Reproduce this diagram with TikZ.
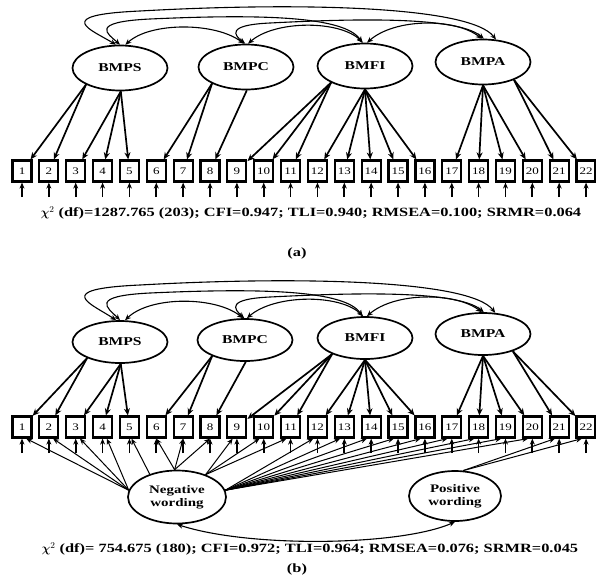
\documentclass[tikz,border=0pt]{standalone}
\usepackage{amsmath}
\usepackage{bm}
\usepackage{fontspec}
\setmainfont{Liberation Serif}[FakeStretch=1.3]
\usetikzlibrary{shapes.geometric, arrows.meta}

\begin{document}
\begin{tikzpicture}[
        x=1pt, y=-1pt,
        latent/.style={ellipse, draw, line width=1.7pt, minimum width=95pt, minimum height=45pt, inner sep=0pt, font=\fontsize{12}{13}\selectfont\bfseries},
        method/.style={latent, minimum width=98pt, minimum height=53pt, align=center, font=\fontsize{11.5}{13}\selectfont\bfseries},
        indic/.style={rectangle, draw, line width=2.2pt, minimum width=19pt, minimum height=21pt, inner sep=0pt, font=\fontsize{10}{10}\selectfont},
        loading/.style={->, >={Stealth[length=7pt, width=6pt]}, line width=1.7pt},
        errarrow/.style={->, >={Stealth[length=6pt, width=5pt]}, line width=1.7pt},
        covar/.style={<->, >={Stealth[length=6pt, width=5pt]}, line width=1.1pt},
        wordline/.style={->, >={Stealth[length=6pt, width=5pt]}, line width=1pt},
        statline/.style={font=\fontsize{12.6}{14}\selectfont\bfseries}
    ]
    \useasboundingbox (0,0) rectangle (596,576);

    % (a) Indicators with error terms
    \foreach \i in {1,...,22} {
        \node[indic] (a\i) at ({22+(\i-1)*26.86},171) {\i};
        \coordinate (ea\i) at ({22+(\i-1)*26.86},197);
        \draw[errarrow] (ea\i) -- (a\i);
    }

    % (a) Factors
    \node[latent] (PSa) at (120,68) {BMPS};
    \node[latent] (PCa) at (246,67) {BMPC};
    \node[latent] (FIa) at (365,66) {BMFI};
    \node[latent] (PAa) at (483,62) {BMPA};

    % (a) Loadings
    \foreach \i in {1,2} \draw[loading] (PSa.206) -- (a\i);
    \foreach \i in {3,4,5} \draw[loading] (PSa.272) -- (a\i);
    \foreach \i in {6,7} \draw[loading] (PCa.206) -- (a\i);
    \draw[loading] (PCa.272) -- (a8);
    \foreach \i in {9,10,11} \draw[loading] (FIa.206) -- (a\i);
    \foreach \i in {12,...,16} \draw[loading] (FIa.270) -- (a\i);
    \foreach \i in {17,...,20} \draw[loading] (PAa.270) -- (a\i);
    \foreach \i in {21,22} \draw[loading] (PAa.330) -- (a\i);

    % (a) Factor covariances
    \draw[covar] (PSa.77) .. controls (150,22) and (215,22) .. (PCa.95);
    \draw[covar] (PCa.85) .. controls (275,20) and (340,20) .. (FIa.95);
    \draw[covar] (FIa.85) .. controls (395,18) and (455,18) .. (PAa.93);
    \draw[covar] (PSa.100) .. controls (92,30) and (50,15) .. (140,11) .. controls (300,2) and (470,6) .. (PAa.60);
    \draw[covar] (PSa.90) .. controls (108,34) and (88,22) .. (150,19) .. controls (260,14) and (345,16) .. (FIa.97);
    \draw[covar] (PCa.92) .. controls (234,35) and (226,25) .. (270,23) .. controls (330,20) and (455,14) .. (PAa.88);

    \node[statline] (fita) at (311,213) {$\bm{\chi}^2$ (df)=1287.765 (203); CFI=0.947; TLI=0.940; RMSEA=0.100; SRMR=0.064};
    \node[statline] (laba) at (297,253) {(a)};

    % (b) Indicators with error terms
    \foreach \i in {1,...,22} {
        \node[indic] (b\i) at ({22+(\i-1)*26.86},427) {\i};
        \coordinate (eb\i) at ({22+(\i-1)*26.86},453);
        \draw[errarrow] (eb\i) -- (b\i);
    }

    % (b) Factors
    \node[latent, minimum height=42pt] (PSb) at (120,342) {BMPS};
    \node[latent, minimum height=42pt] (PCb) at (245,340) {BMPC};
    \node[latent, minimum height=42pt] (FIb) at (365,338) {BMFI};
    \node[latent, minimum height=42pt] (PAb) at (483,334) {BMPA};

    % (b) Method factors
    \node[method] (NW) at (177,497) {Negative\\wording};
    \node[method, minimum width=92pt, minimum height=50pt] (PW) at (455,496) {Positive\\wording};

    % (b) Loadings
    \foreach \i in {1,2} \draw[loading] (PSb.206) -- (b\i);
    \foreach \i in {3,4,5} \draw[loading] (PSb.272) -- (b\i);
    \foreach \i in {6,7} \draw[loading] (PCb.206) -- (b\i);
    \draw[loading] (PCb.272) -- (b8);
    \foreach \i in {9,10,11} \draw[loading] (FIb.206) -- (b\i);
    \foreach \i in {12,...,16} \draw[loading] (FIb.270) -- (b\i);
    \foreach \i in {17,...,20} \draw[loading] (PAb.270) -- (b\i);
    \foreach \i in {21,22} \draw[loading] (PAb.330) -- (b\i);

    % (b) Wording loadings
    \foreach \i in {1,...,4} \draw[wordline] (NW.172) -- (b\i.-70);
    \draw[wordline] (NW.140) -- (b5.-80);
    \foreach \i in {6,7,8} \draw[wordline] (NW.95) -- (b\i.south);
    \foreach \i in {9,10,11} \draw[wordline] (NW.38) -- (b\i.-110);
    \foreach \i in {12,...,20} \draw[wordline] (NW.8) -- (b\i.-110);
    \foreach \i in {21,22} \draw[wordline] (PW.72) -- (b\i.-110);

    % (b) Factor covariances
    \draw[covar] (PSb.77) .. controls (150,296) and (215,296) .. (PCb.95);
    \draw[covar] (PCb.85) .. controls (275,294) and (340,294) .. (FIb.95);
    \draw[covar] (FIb.85) .. controls (395,292) and (455,292) .. (PAb.93);
    \draw[covar] (PSb.100) .. controls (92,304) and (50,289) .. (140,285) .. controls (300,276) and (470,280) .. (PAb.60);
    \draw[covar] (PSb.90) .. controls (108,308) and (88,296) .. (150,293) .. controls (260,288) and (345,290) .. (FIb.97);
    \draw[covar] (PCb.92) .. controls (234,309) and (226,299) .. (270,297) .. controls (330,294) and (455,288) .. (PAb.88);
    \draw[covar] (NW.south) .. controls (250,548) and (400,546) .. (PW.south);

    \node[statline] (fitb) at (310,549) {$\bm{\chi}^2$ (df)= 754.675 (180); CFI=0.972; TLI=0.964; RMSEA=0.076; SRMR=0.045};
    \node[statline] (labb) at (297,569) {(b)};

\end{tikzpicture}
\end{document}
